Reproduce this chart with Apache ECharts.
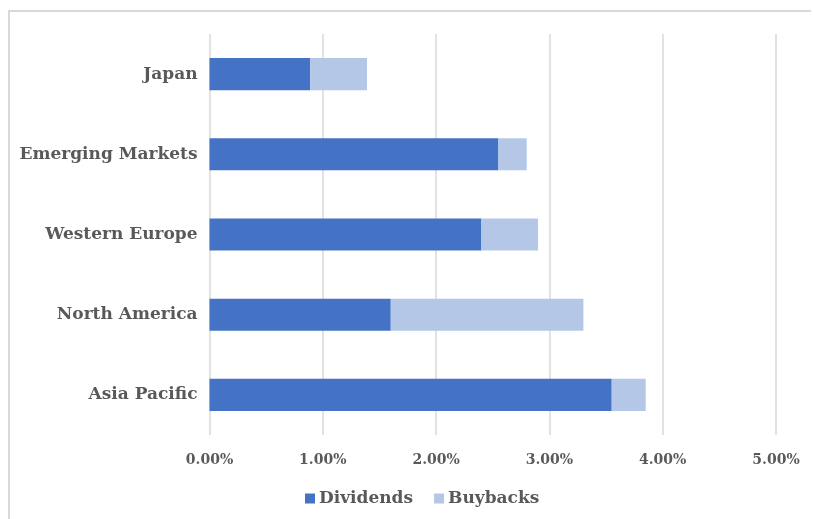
<!DOCTYPE html>
<html>
<head>
<meta charset="utf-8">
<script src="https://cdn.jsdelivr.net/npm/echarts@6/dist/echarts.min.js"></script>
<style>
html,body{margin:0;padding:0;background:#fff;overflow:hidden;}
#wrap{position:relative;width:813px;height:519px;overflow:hidden;}
#frame{position:absolute;left:8px;top:10px;width:803px;height:509px;border-left:2px solid #d9d9d9;border-top:2px solid #d9d9d9;box-sizing:border-box;pointer-events:none;}
#chart{position:absolute;left:0;top:0;width:813px;height:519px;}
</style>
</head>
<body>
<div id="wrap">
<div id="chart"></div>
<div id="frame"></div>
</div>
<script>
var categories = ['Japan', 'Emerging Markets', 'Western Europe', 'North America', 'Asia Pacific'];
var dividends = [0.89, 2.55, 2.40, 1.60, 3.55];
var buybacks = [0.50, 0.25, 0.50, 1.70, 0.30];
var seriesNames = ['Dividends', 'Buybacks'];

var labelFont = { fontFamily: 'DejaVu Serif', fontWeight: 'bold', color: '#595959' };

var chart = echarts.init(document.getElementById('chart'), null, { renderer: 'canvas' });
chart.setOption({
  animation: false,
  backgroundColor: 'transparent',
  grid: { left: 209.5, right: 37, top: 34, bottom: 84, containLabel: false },
  legend: {
    data: seriesNames,
    top: 485,
    left: 300,
    itemWidth: 10,
    itemHeight: 10,
    itemGap: 21,
    icon: 'rect',
    textStyle: Object.assign({ fontSize: 17, padding: [0, 0, 0, -1] }, labelFont)
  },
  xAxis: {
    type: 'value',
    min: 0, max: 5, interval: 1,
    axisLine: { show: false },
    axisTick: { show: false },
    splitLine: { show: true, lineStyle: { color: '#d9d9d9', width: 1.5 } },
    axisLabel: Object.assign({ fontSize: 14, margin: 18, formatter: function (v) { return v.toFixed(2) + '%'; } }, labelFont)
  },
  yAxis: {
    type: 'category',
    data: categories,
    inverse: true,
    axisLine: { show: false },
    axisTick: { show: false },
    axisLabel: Object.assign({ fontSize: 17, margin: 12 }, labelFont)
  },
  series: [{
    name: seriesNames[0],
    type: 'bar',
    stack: 'total',
    barWidth: '40%',
    data: dividends,
    itemStyle: { color: '#4472C4' }
  }, {
    name: seriesNames[1],
    type: 'bar',
    stack: 'total',
    barWidth: '40%',
    data: buybacks,
    itemStyle: { color: '#B4C7E7' }
  }]
});
</script>
</body>
</html>
